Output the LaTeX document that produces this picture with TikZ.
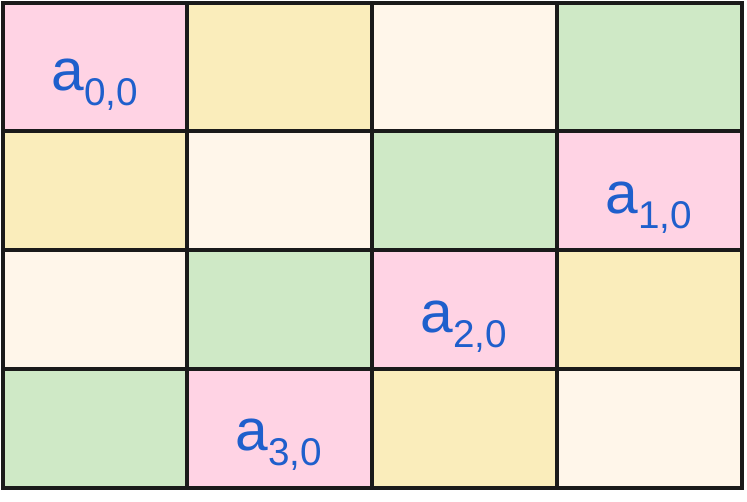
\documentclass[tikz,border=0pt]{standalone}
\usepackage{fontspec}
\setmainfont{Liberation Sans}
\definecolor{cpink}{HTML}{FFD3E4}
\definecolor{cyel}{HTML}{FAEDBB}
\definecolor{ccream}{HTML}{FFF6EA}
\definecolor{cgreen}{HTML}{CFE9C6}
\definecolor{cline}{HTML}{1A1A1A}
\definecolor{ctext}{HTML}{1F5FCC}
\newcommand{\lbl}[1]{\fontsize{44}{44}\selectfont a\raisebox{-11.5pt}{\fontsize{29}{29}\selectfont #1}}
\begin{document}
\begin{tikzpicture}[x=0.75pt,y=-0.75pt,
  gridline/.style={draw=cline,line width=3pt},
  lab/.style={text=ctext,anchor=base,inner sep=0pt}]
\useasboundingbox (0,0) rectangle (747,501);
\def\xs{{3,187,372,557,742}}
\def\ys{{3,131,250,369,488}}
\foreach \r/\cs in {0/{cpink,cyel,ccream,cgreen},1/{cyel,ccream,cgreen,cpink},2/{ccream,cgreen,cpink,cyel},3/{cgreen,cpink,cyel,ccream}}{
  \foreach \cc [count=\c from 0] in \cs {
    \pgfmathsetmacro{\xa}{\xs[\c]}
    \pgfmathsetmacro{\xb}{\xs[\c+1]}
    \pgfmathsetmacro{\ya}{\ys[\r]}
    \pgfmathsetmacro{\yb}{\ys[\r+1]}
    \fill[\cc] (\xa,\ya) rectangle (\xb,\yb);
  }
}
\foreach \x in {3,187,372,557,742} \draw[gridline] (\x,1.5) -- (\x,489.5);
\foreach \y in {3,131,250,369,488} \draw[gridline] (1.5,\y) -- (743.5,\y);
\node[lab] (a00) at (95,90) {\lbl{0,0}};
\node[lab] (a10) at (649,213) {\lbl{1,0}};
\node[lab] (a20) at (464,332) {\lbl{2,0}};
\node[lab] (a30) at (279,450) {\lbl{3,0}};
\end{tikzpicture}
\end{document}
